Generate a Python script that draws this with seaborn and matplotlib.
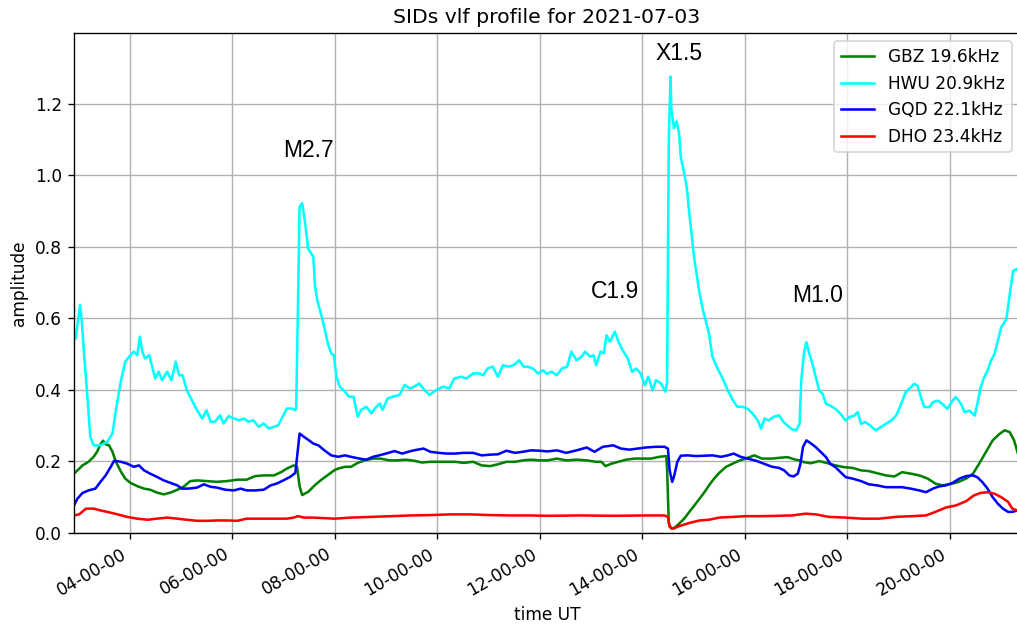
import pandas as pd
import matplotlib
matplotlib.use("Agg")
import matplotlib.pyplot as plt
import matplotlib.dates as mdates
import seaborn as sns

DAY = "2021-07-03"

# GBZ 19.6kHz
gbz_time = ["02:55", "02:59", "03:05", "03:12", "03:18", "03:22", "03:26", "03:29", "03:32", "03:36",
            "03:40", "03:44", "03:50", "03:55", "04:01", "04:09", "04:17", "04:24", "04:32", "04:40",
            "04:48", "04:56", "05:03", "05:11", "05:19", "05:31", "05:42", "05:54", "06:06", "06:17",
            "06:27", "06:37", "06:49", "06:58", "07:04", "07:12", "07:16", "07:19", "07:22", "07:29",
            "07:37", "07:44", "07:52", "08:00", "08:04", "08:12", "08:19", "08:27", "08:35", "08:45",
            "08:54", "09:04", "09:13", "09:23", "09:33", "09:42", "09:52", "10:02", "10:11", "10:21",
            "10:31", "10:42", "10:52", "11:02", "11:11", "11:21", "11:31", "11:40", "11:50", "12:00",
            "12:09", "12:20", "12:31", "12:43", "12:55", "13:06", "13:12", "13:17", "13:24", "13:32",
            "13:41", "13:51", "14:01", "14:10", "14:20", "14:28", "14:29", "14:31", "14:34", "14:38",
            "14:43", "14:49", "14:55", "15:01", "15:07", "15:13", "15:18", "15:24", "15:30", "15:38",
            "15:46", "15:53", "16:01", "16:11", "16:20", "16:32", "16:44", "16:50", "16:59", "17:04",
            "17:09", "17:17", "17:27", "17:37", "17:46", "17:56", "18:06", "18:16", "18:25", "18:35",
            "18:45", "18:55", "19:04", "19:14", "19:24", "19:34", "19:43", "19:51", "19:59", "20:09",
            "20:19", "20:27", "20:34", "20:42", "20:50", "20:58", "21:04", "21:10", "21:15", "21:19",
            "21:22"]
gbz_amp = [0.166, 0.175, 0.189, 0.199, 0.213, 0.227, 0.248, 0.258, 0.248, 0.245,
           0.227, 0.199, 0.171, 0.152, 0.140, 0.131, 0.124, 0.121, 0.113, 0.108,
           0.113, 0.121, 0.129, 0.145, 0.147, 0.145, 0.143, 0.145, 0.149, 0.149,
           0.159, 0.161, 0.161, 0.171, 0.180, 0.189, 0.185, 0.130, 0.106, 0.115,
           0.134, 0.148, 0.162, 0.176, 0.180, 0.185, 0.185, 0.196, 0.203, 0.208,
           0.208, 0.203, 0.203, 0.205, 0.202, 0.197, 0.199, 0.199, 0.199, 0.199,
           0.196, 0.199, 0.189, 0.187, 0.192, 0.199, 0.199, 0.203, 0.205, 0.203,
           0.203, 0.208, 0.203, 0.205, 0.203, 0.199, 0.199, 0.187, 0.194, 0.199,
           0.205, 0.208, 0.208, 0.208, 0.213, 0.215, 0.180, 0.026, 0.012, 0.015,
           0.026, 0.040, 0.059, 0.077, 0.096, 0.115, 0.133, 0.152, 0.168, 0.185,
           0.194, 0.202, 0.208, 0.217, 0.208, 0.208, 0.211, 0.212, 0.205, 0.203,
           0.198, 0.195, 0.201, 0.195, 0.189, 0.184, 0.182, 0.175, 0.173, 0.167,
           0.161, 0.158, 0.170, 0.166, 0.161, 0.152, 0.138, 0.133, 0.136, 0.142,
           0.152, 0.166, 0.193, 0.226, 0.259, 0.277, 0.287, 0.282, 0.259, 0.226,
           0.203]

# HWU 20.9kHz
hwu_time = ["02:55", "02:57", "03:02", "03:04", "03:07", "03:11", "03:14", "03:18", "03:26", "03:34",
            "03:40", "03:44", "03:50", "03:55", "04:01", "04:05", "04:09", "04:12", "04:15", "04:18",
            "04:23", "04:27", "04:30", "04:34", "04:38", "04:44", "04:49", "04:54", "04:58", "05:02",
            "05:07", "05:13", "05:19", "05:25", "05:30", "05:35", "05:40", "05:46", "05:50", "05:56",
            "06:02", "06:08", "06:14", "06:19", "06:25", "06:31", "06:37", "06:43", "06:49", "06:54",
            "06:58", "07:04", "07:10", "07:14", "07:15", "07:19", "07:22", "07:25", "07:29", "07:35",
            "07:37", "07:40", "07:46", "07:52", "07:56", "07:59", "08:02", "08:06", "08:12", "08:17",
            "08:22", "08:27", "08:31", "08:37", "08:43", "08:47", "08:53", "08:56", "09:02", "09:08",
            "09:16", "09:22", "09:28", "09:33", "09:39", "09:45", "09:51", "09:59", "10:07", "10:14",
            "10:20", "10:28", "10:34", "10:42", "10:49", "10:54", "10:59", "11:05", "11:11", "11:17",
            "11:24", "11:30", "11:36", "11:41", "11:46", "11:52", "11:58", "12:04", "12:08", "12:14",
            "12:20", "12:26", "12:32", "12:37", "12:43", "12:49", "12:53", "12:59", "13:03", "13:06",
            "13:11", "13:15", "13:18", "13:22", "13:28", "13:32", "13:37", "13:43", "13:48", "13:53",
            "13:58", "14:03", "14:07", "14:12", "14:16", "14:22", "14:27", "14:29", "14:31", "14:33",
            "14:34", "14:37", "14:40", "14:43", "14:45", "14:49", "14:52", "14:55", "14:58", "15:01",
            "15:04", "15:07", "15:11", "15:14", "15:18", "15:22", "15:28", "15:34", "15:40", "15:46",
            "15:51", "15:57", "16:03", "16:09", "16:15", "16:19", "16:23", "16:28", "16:34", "16:40",
            "16:45", "16:50", "16:55", "17:00", "17:04", "17:06", "17:09", "17:12", "17:15", "17:19",
            "17:23", "17:27", "17:31", "17:35", "17:40", "17:46", "17:52", "17:58", "18:02", "18:08",
            "18:12", "18:16", "18:21", "18:27", "18:33", "18:39", "18:45", "18:51", "18:57", "19:03",
            "19:08", "19:14", "19:18", "19:22", "19:26", "19:30", "19:36", "19:40", "19:46", "19:51",
            "19:57", "20:03", "20:07", "20:13", "20:17", "20:23", "20:29", "20:32", "20:36", "20:40",
            "20:44", "20:48", "20:52", "20:56", "21:00", "21:06", "21:10", "21:14", "21:18", "21:22"]
hwu_amp = [0.560, 0.544, 0.637, 0.595, 0.493, 0.371, 0.269, 0.245, 0.245, 0.255,
           0.278, 0.343, 0.427, 0.479, 0.497, 0.507, 0.497, 0.549, 0.507, 0.488,
           0.497, 0.460, 0.432, 0.451, 0.427, 0.451, 0.427, 0.479, 0.441, 0.441,
           0.399, 0.371, 0.343, 0.320, 0.343, 0.311, 0.311, 0.329, 0.306, 0.327,
           0.320, 0.315, 0.320, 0.311, 0.315, 0.297, 0.306, 0.292, 0.297, 0.301,
           0.320, 0.348, 0.348, 0.343, 0.350, 0.912, 0.922, 0.875, 0.795, 0.772,
           0.689, 0.647, 0.595, 0.530, 0.502, 0.497, 0.437, 0.409, 0.395, 0.381,
           0.381, 0.325, 0.344, 0.353, 0.334, 0.348, 0.362, 0.344, 0.376, 0.381,
           0.386, 0.414, 0.404, 0.409, 0.418, 0.400, 0.386, 0.400, 0.409, 0.404,
           0.432, 0.437, 0.432, 0.446, 0.446, 0.441, 0.460, 0.465, 0.437, 0.469,
           0.465, 0.470, 0.483, 0.465, 0.465, 0.460, 0.446, 0.455, 0.445, 0.451,
           0.441, 0.460, 0.465, 0.507, 0.483, 0.493, 0.507, 0.493, 0.497, 0.469,
           0.507, 0.502, 0.553, 0.535, 0.563, 0.535, 0.511, 0.488, 0.451, 0.460,
           0.446, 0.413, 0.437, 0.399, 0.427, 0.418, 0.395, 0.420, 1.100, 1.276,
           1.184, 1.132, 1.151, 1.118, 1.052, 1.005, 0.967, 0.893, 0.828, 0.763,
           0.716, 0.670, 0.623, 0.595, 0.558, 0.493, 0.460, 0.432, 0.399, 0.371,
           0.353, 0.353, 0.348, 0.334, 0.315, 0.292, 0.320, 0.315, 0.325, 0.329,
           0.311, 0.300, 0.290, 0.287, 0.305, 0.426, 0.500, 0.533, 0.505, 0.473,
           0.435, 0.398, 0.389, 0.361, 0.356, 0.347, 0.333, 0.314, 0.324, 0.328,
           0.338, 0.305, 0.310, 0.300, 0.287, 0.296, 0.305, 0.314, 0.328, 0.361,
           0.393, 0.407, 0.417, 0.412, 0.380, 0.352, 0.352, 0.366, 0.370, 0.361,
           0.347, 0.370, 0.380, 0.361, 0.338, 0.342, 0.328, 0.361, 0.407, 0.435,
           0.454, 0.482, 0.500, 0.538, 0.575, 0.598, 0.668, 0.733, 0.738, 0.728]

# GQD 22.1kHz
gqd_time = ["02:55", "02:59", "03:05", "03:12", "03:20", "03:26", "03:32", "03:38", "03:42", "03:50",
            "03:57", "04:05", "04:11", "04:17", "04:24", "04:32", "04:40", "04:48", "04:56", "05:01",
            "05:09", "05:19", "05:27", "05:35", "05:42", "05:52", "06:02", "06:10", "06:17", "06:27",
            "06:37", "06:45", "06:52", "07:00", "07:08", "07:14", "07:16", "07:19", "07:24", "07:30",
            "07:35", "07:41", "07:48", "07:56", "08:04", "08:12", "08:19", "08:29", "08:37", "08:45",
            "08:52", "09:00", "09:10", "09:19", "09:29", "09:37", "09:44", "09:52", "10:02", "10:11",
            "10:21", "10:31", "10:42", "10:52", "11:02", "11:11", "11:21", "11:31", "11:40", "11:50",
            "12:00", "12:09", "12:20", "12:31", "12:43", "12:55", "13:04", "13:14", "13:26", "13:35",
            "13:45", "13:55", "14:04", "14:16", "14:26", "14:30", "14:32", "14:35", "14:37", "14:41",
            "14:45", "14:53", "15:03", "15:12", "15:22", "15:32", "15:40", "15:47", "15:55", "16:03",
            "16:13", "16:22", "16:32", "16:40", "16:46", "16:52", "16:57", "17:02", "17:05", "17:08",
            "17:12", "17:17", "17:23", "17:29", "17:35", "17:40", "17:46", "17:52", "17:58", "18:06",
            "18:16", "18:25", "18:35", "18:45", "18:55", "19:04", "19:14", "19:24", "19:32", "19:40",
            "19:47", "19:55", "20:03", "20:11", "20:19", "20:27", "20:32", "20:38", "20:44", "20:50",
            "20:56", "21:02", "21:08", "21:13", "21:19", "21:22"]
gqd_amp = [0.077, 0.096, 0.112, 0.119, 0.124, 0.143, 0.161, 0.185, 0.202, 0.199,
           0.194, 0.185, 0.189, 0.175, 0.166, 0.157, 0.147, 0.140, 0.133, 0.124,
           0.124, 0.127, 0.136, 0.129, 0.127, 0.121, 0.119, 0.124, 0.119, 0.119,
           0.121, 0.133, 0.138, 0.147, 0.157, 0.168, 0.213, 0.278, 0.269, 0.259,
           0.250, 0.245, 0.231, 0.217, 0.213, 0.217, 0.213, 0.208, 0.205, 0.213,
           0.217, 0.222, 0.229, 0.222, 0.229, 0.233, 0.236, 0.227, 0.224, 0.222,
           0.222, 0.224, 0.224, 0.217, 0.219, 0.220, 0.230, 0.224, 0.227, 0.231,
           0.230, 0.228, 0.231, 0.224, 0.231, 0.239, 0.227, 0.241, 0.245, 0.236,
           0.233, 0.236, 0.239, 0.241, 0.241, 0.236, 0.175, 0.143, 0.157, 0.199,
           0.216, 0.217, 0.215, 0.216, 0.217, 0.213, 0.217, 0.222, 0.213, 0.208,
           0.202, 0.194, 0.185, 0.182, 0.175, 0.161, 0.158, 0.166, 0.193, 0.240,
           0.259, 0.251, 0.240, 0.226, 0.212, 0.193, 0.184, 0.170, 0.156, 0.152,
           0.145, 0.136, 0.133, 0.128, 0.128, 0.128, 0.124, 0.119, 0.114, 0.124,
           0.130, 0.133, 0.140, 0.152, 0.159, 0.161, 0.156, 0.142, 0.124, 0.100,
           0.082, 0.068, 0.059, 0.059, 0.063, 0.066]

# DHO 23.4kHz
dho_time = ["02:55", "03:01", "03:09", "03:18", "03:26", "03:34", "03:46", "03:57", "04:09", "04:21",
            "04:32", "04:44", "04:56", "05:07", "05:19", "05:31", "05:42", "05:54", "06:06", "06:17",
            "06:29", "06:41", "06:53", "07:04", "07:12", "07:17", "07:24", "07:35", "08:00", "08:19",
            "08:43", "09:06", "09:29", "09:52", "10:15", "10:39", "11:02", "11:25", "11:48", "12:10",
            "12:47", "13:26", "14:05", "14:26", "14:30", "14:32", "14:36", "14:43", "14:55", "15:07",
            "15:18", "15:30", "15:46", "16:01", "16:20", "16:40", "16:55", "17:11", "17:23", "17:38",
            "17:58", "18:17", "18:37", "18:57", "19:16", "19:32", "19:43", "19:55", "20:07", "20:19",
            "20:28", "20:36", "20:44", "20:52", "21:00", "21:08", "21:13", "21:19", "21:22"]
dho_amp = [0.049, 0.052, 0.068, 0.068, 0.063, 0.059, 0.052, 0.045, 0.040, 0.037,
           0.040, 0.043, 0.040, 0.037, 0.034, 0.034, 0.035, 0.035, 0.034, 0.040,
           0.040, 0.040, 0.040, 0.040, 0.043, 0.047, 0.043, 0.043, 0.040, 0.043,
           0.045, 0.047, 0.049, 0.050, 0.052, 0.052, 0.050, 0.049, 0.049, 0.048,
           0.049, 0.048, 0.049, 0.049, 0.045, 0.017, 0.012, 0.019, 0.028, 0.035,
           0.037, 0.043, 0.045, 0.047, 0.047, 0.048, 0.049, 0.054, 0.052, 0.045,
           0.043, 0.040, 0.040, 0.045, 0.047, 0.049, 0.059, 0.071, 0.077, 0.089,
           0.105, 0.112, 0.114, 0.110, 0.100, 0.087, 0.068, 0.063, 0.062]

# flare labels
flare_labels = ["M2.7", "C1.9", "X1.5", "M1.0"]
flare_time = ["07:00", "13:00", "14:15", "16:55"]
flare_amp = [1.05, 0.657, 1.323, 0.647]


def to_dt(times):
    return pd.to_datetime([f"{DAY} {t}" for t in times])


series = [
    ("GBZ 19.6kHz", gbz_time, gbz_amp, "green"),
    ("HWU 20.9kHz", hwu_time, hwu_amp, "cyan"),
    ("GQD 22.1kHz", gqd_time, gqd_amp, "blue"),
    ("DHO 23.4kHz", dho_time, dho_amp, "red"),
]

dpi = 122
fig, ax = plt.subplots(figsize=(1018 / dpi, 626 / dpi), dpi=dpi)

for label, t, a, c in series:
    sns.lineplot(x=to_dt(t), y=a, ax=ax, color=c, label=label, linewidth=1.5)

for lab, t, a in zip(flare_labels, to_dt(flare_time), flare_amp):
    ax.text(t, a, lab, fontsize=13.5, family=["Liberation Sans", "DejaVu Sans"])

start = to_dt([gbz_time[0]])[0]
end = to_dt([gbz_time[-1]])[0]
ax.set_xlim(start, end)
ax.set_ylim(0, 1.398)

ax.xaxis.set_major_locator(mdates.HourLocator(byhour=range(0, 24, 2)))
ax.xaxis.set_major_formatter(mdates.DateFormatter("%H-%M-%S"))
plt.setp(ax.get_xticklabels(), rotation=30, ha="right")

ax.grid(True)
ax.legend(loc="upper right")
ax.set_title(f"SIDs vlf profile for {DAY}")
ax.set_xlabel("time UT")
ax.set_ylabel("amplitude")

fig.subplots_adjust(left=0.0727, right=1.002, bottom=0.1486, top=0.9473)
fig.savefig("out.png", dpi=dpi)
